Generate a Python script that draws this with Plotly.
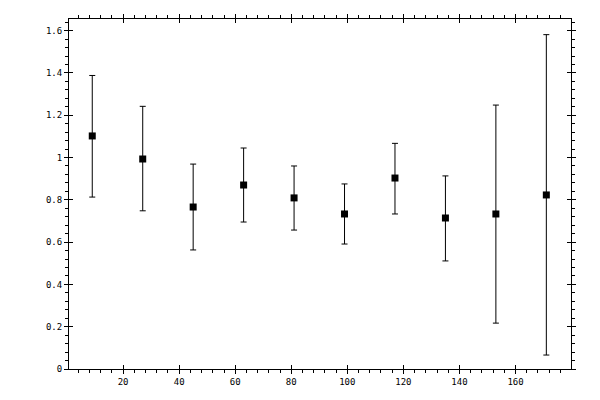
import plotly.graph_objects as go

# measured points (x, y) with asymmetric error bar ends
x_vals = [9, 27, 45, 63, 81, 99, 117, 135, 153, 171]
y_vals = [1.102, 0.993, 0.766, 0.870, 0.809, 0.733, 0.903, 0.714, 0.733, 0.823]
y_high = [1.388, 1.242, 0.969, 1.045, 0.960, 0.875, 1.067, 0.913, 1.248, 1.581]
y_low = [0.813, 0.748, 0.563, 0.695, 0.657, 0.591, 0.733, 0.511, 0.217, 0.066]

err_plus = [h - y for h, y in zip(y_high, y_vals)]
err_minus = [y - l for y, l in zip(y_vals, y_low)]

x_range = [0.7, 179.8]
y_range = [0, 1.655]

fig = go.Figure()
fig.add_trace(go.Scatter(
    x=x_vals, y=y_vals, mode="markers",
    marker=dict(symbol="square", size=7, color="black"),
    error_y=dict(type="data", symmetric=False, array=err_plus, arrayminus=err_minus,
                 color="black", thickness=1, width=3),
    showlegend=False, hoverinfo="skip",
))
# invisible trace so the overlay axes (inner half of major ticks) get drawn
fig.add_trace(go.Scatter(x=[None], y=[None], xaxis="x2", yaxis="y2",
                         showlegend=False, hoverinfo="skip"))

font = dict(family="DejaVu Sans Mono", size=9, color="black")
common = dict(showgrid=False, zeroline=False, color="black", automargin=False)

fig.update_layout(
    width=600, height=400,
    margin=dict(l=61, r=37, t=11, b=39),
    paper_bgcolor="white", plot_bgcolor="white",
    font=font,
    xaxis=dict(range=x_range, tick0=0, dtick=20, ticks="outside", ticklen=4,
               tickwidth=1, tickcolor="black", showline=True, linecolor="black",
               linewidth=1, mirror="ticks",
               minor=dict(tick0=0, dtick=4, ticks="outside", ticklen=3,
                          tickcolor="black", showgrid=False),
               tickfont=font, **common),
    yaxis=dict(range=y_range, tick0=0, dtick=0.2, ticks="outside", ticklen=4,
               tickwidth=1, tickcolor="black", showline=True, linecolor="black",
               linewidth=1, mirror="ticks",
               minor=dict(tick0=0, dtick=0.04, ticks="outside", ticklen=3,
                          tickcolor="black", showgrid=False),
               tickfont=font, **common),
    xaxis2=dict(range=x_range, overlaying="x", anchor="y", tick0=0, dtick=20,
                ticks="inside", ticklen=4, tickwidth=1, tickcolor="black",
                showticklabels=False, showline=False, mirror="ticks", **common),
    yaxis2=dict(range=y_range, overlaying="y", anchor="x", tick0=0, dtick=0.2,
                ticks="inside", ticklen=4, tickwidth=1, tickcolor="black",
                showticklabels=False, showline=False, mirror="ticks", **common),
)

fig.write_html("out.html")
